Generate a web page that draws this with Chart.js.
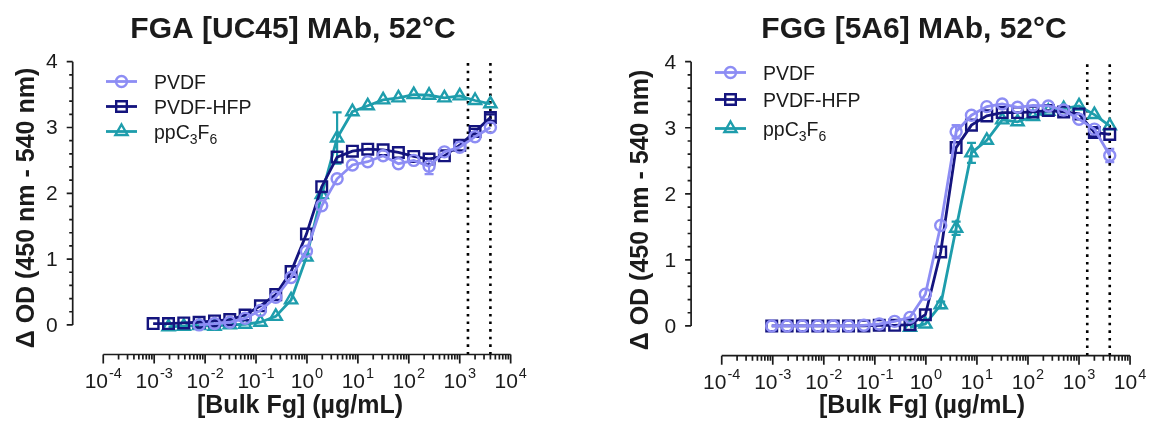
<!DOCTYPE html>
<html>
<head>
<meta charset="utf-8">
<script src="https://cdn.jsdelivr.net/npm/chart.js@4.4.1/dist/chart.umd.min.js"></script>
<style>
  body { margin: 0; background: #fff; overflow: hidden; }
  .panel { position: absolute; top: 0; width: 575px; height: 421px; }
</style>
</head>
<body>
<div class="panel" style="left:0"><canvas id="fgaChart" width="575" height="421"></canvas></div>
<div class="panel" style="left:575px"><canvas id="fggChart" width="575" height="421"></canvas></div>
<script>
// 2-fold dilution series of bulk fibrinogen (ug/mL)
const conc = [0.000954, 0.00191, 0.00381, 0.00763, 0.0153, 0.0305, 0.061, 0.122, 0.244, 0.488,
              0.977, 1.95, 3.91, 7.81, 15.6, 31.3, 62.5, 125, 250, 500, 1000, 2000, 4000];

const seriesNames = ['PVDF', 'PVDF-HFP', 'ppC3F6'];
const seriesColors = ['#8d8df4', '#14147e', '#1e9dac'];
const seriesMarkers = ['circle', 'rect', 'triangle'];
const markerRadius = [5.5, 7.5, 7];

// FGA [UC45] panel
const fgaPVDF  = [null, null, null, 0.00, 0.02, 0.04, 0.10, 0.22, 0.42, 0.72, 1.12, 1.81, 2.22, 2.43, 2.48, 2.57, 2.45, 2.50, 2.41, 2.63, 2.70, 2.86, 3.00];
const fgaHFP   = [0.02, 0.02, 0.03, 0.04, 0.06, 0.08, 0.15, 0.29, 0.46, 0.81, 1.38, 2.10, 2.55, 2.64, 2.67, 2.66, 2.62, 2.56, 2.52, 2.57, 2.73, 2.94, 3.15];
const fgaC3F6  = [null, -0.03, -0.02, -0.01, -0.02, 0.00, 0.01, 0.04, 0.13, 0.38, 1.03, 1.98, 2.84, 3.24, 3.33, 3.42, 3.45, 3.50, 3.49, 3.45, 3.48, 3.41, 3.36];
const fgaPVDFsd = [0, 0, 0, 0, 0, 0, 0, 0, 0, 0, 0, 0, 0, 0, 0, 0, 0, 0, 0.12, 0, 0, 0, 0];
const fgaHFPsd  = [0, 0, 0, 0, 0, 0, 0, 0, 0, 0, 0, 0, 0, 0, 0, 0, 0, 0, 0, 0, 0, 0.04, 0.05];
const fgaC3F6sd = [0, 0, 0, 0, 0, 0, 0, 0, 0, 0, 0, 0, 0.39, 0, 0, 0, 0, 0, 0, 0, 0, 0, 0];

// FGG [5A6] panel
const fggPVDF  = [0.00, 0.00, 0.00, 0.00, 0.00, 0.00, 0.01, 0.03, 0.07, 0.13, 0.48, 1.52, 2.94, 3.19, 3.32, 3.36, 3.31, 3.34, 3.33, 3.27, 3.13, 2.98, 2.58];
const fggHFP   = [0.00, 0.00, 0.00, 0.00, 0.00, 0.00, 0.00, 0.01, 0.01, 0.02, 0.17, 1.12, 2.70, 3.04, 3.18, 3.23, 3.23, 3.24, 3.26, 3.24, 3.21, 2.93, 2.90];
const fggC3F6  = [null, null, null, null, null, null, null, null, null, -0.02, 0.03, 0.32, 1.48, 2.62, 2.81, 3.12, 3.09, 3.17, 3.25, 3.29, 3.33, 3.20, 3.03];
const fggPVDFsd = [0, 0, 0, 0, 0, 0, 0, 0, 0, 0, 0, 0, 0.10, 0, 0, 0, 0, 0, 0, 0, 0, 0, 0.10];
const fggHFPsd  = [0, 0, 0, 0, 0, 0, 0, 0, 0, 0, 0, 0, 0, 0, 0, 0, 0, 0, 0, 0, 0, 0.06, 0];
const fggC3F6sd = [0, 0, 0, 0, 0, 0, 0, 0, 0, 0, 0, 0.05, 0.10, 0.15, 0, 0, 0, 0, 0, 0, 0, 0, 0];

// dotted reference lines (ug/mL)
const cutoffs = [1450, 4000];

const xDecades = [-4, -3, -2, -1, 0, 1, 2, 3, 4];
const yTicks = [0, 1, 2, 3, 4];

const FONT = '"Liberation Sans", Arial, Helvetica, sans-serif';
const INK = '#1b1b1b';

function drawMarker(ctx, style, r, x, y) {
  Chart.helpers.drawPoint(ctx, {
    pointStyle: style, radius: r, rotation: 0, borderWidth: 2.4
  }, x, y);
}

function drawSubText(ctx, parts, x, y) {
  // parts: [text, isSubscript]
  let cx = x;
  parts.forEach(([t, sub]) => {
    ctx.font = (sub ? '14px ' : '19.5px ') + FONT;
    ctx.fillText(t, cx, sub ? y + 5 : y);
    cx += ctx.measureText(t).width;
  });
}

const prismAxes = {
  id: 'prismAxes',
  beforeDatasetsDraw(chart) {
    const { ctx, scales: { x, y } } = chart;
    const o = chart.options.plugins.prismAxes;
    ctx.save();
    o.sd.forEach((sds, s) => {
      ctx.strokeStyle = seriesColors[s];
      ctx.lineWidth = 2.2;
      sds.forEach((sd, i) => {
        const v = o.values[s][i];
        if (!sd || v === null) return;
        const px = x.getPixelForValue(conc[i]);
        const top = y.getPixelForValue(v + sd), bot = y.getPixelForValue(v - sd);
        ctx.beginPath();
        ctx.moveTo(px, top); ctx.lineTo(px, bot);
        ctx.moveTo(px - 4.5, top); ctx.lineTo(px + 4.5, top);
        ctx.moveTo(px - 4.5, bot); ctx.lineTo(px + 4.5, bot);
        ctx.stroke();
      });
    });
    ctx.restore();
  },
  afterDraw(chart) {
    const { ctx, chartArea, scales: { x, y } } = chart;
    const o = chart.options.plugins.prismAxes;
    ctx.save();
    ctx.strokeStyle = INK;
    ctx.fillStyle = INK;
    ctx.lineWidth = 1.7;

    // y axis: 0..4 only, ticks outward
    const ax = chartArea.left;
    ctx.beginPath();
    ctx.moveTo(ax, y.getPixelForValue(0));
    ctx.lineTo(ax, y.getPixelForValue(4));
    for (let k = 0; k <= 20; k++) {
      const py = y.getPixelForValue(k * 0.2);
      ctx.moveTo(ax, py);
      ctx.lineTo(ax - (k % 5 === 0 ? 6 : 3.5), py);
    }
    ctx.stroke();
    ctx.font = '21px ' + FONT;
    ctx.textAlign = 'right';
    ctx.textBaseline = 'middle';
    yTicks.forEach(t => ctx.fillText(String(t), ax - 15, y.getPixelForValue(t) + 1));

    // x axis: offset below the data, 1e-4..1e4, ticks hanging down
    const ay = chartArea.bottom;
    const x0 = x.getPixelForValue(1e-4), x1 = x.getPixelForValue(1e4);
    ctx.beginPath();
    ctx.moveTo(x0, ay); ctx.lineTo(x1, ay);
    xDecades.forEach((d, n) => {
      const base = Math.pow(10, d);
      const px = x.getPixelForValue(base);
      ctx.moveTo(px, ay); ctx.lineTo(px, ay + 9);
      if (n < xDecades.length - 1) {
        for (let m = 2; m <= 9; m++) {
          const pm = x.getPixelForValue(m * base);
          ctx.moveTo(pm, ay); ctx.lineTo(pm, ay + 5);
        }
      }
    });
    ctx.stroke();

    ctx.textAlign = 'left';
    ctx.textBaseline = 'alphabetic';
    xDecades.forEach(d => {
      const px = x.getPixelForValue(Math.pow(10, d));
      const sup = String(d);
      ctx.font = '21px ' + FONT;
      const wb = ctx.measureText('10').width;
      ctx.font = '14.5px ' + FONT;
      const ws = ctx.measureText(sup).width;
      const start = px - (wb + ws + 1) / 2;
      ctx.font = '21px ' + FONT;
      ctx.fillText('10', start, ay + 33);
      ctx.font = '14.5px ' + FONT;
      ctx.fillText(sup, start + wb + 1, ay + 23.5);
    });

    // axis titles and panel title
    ctx.font = 'bold 25px ' + FONT;
    ctx.textAlign = 'center';
    ctx.fillText('[Bulk Fg] (\u00b5g/mL)', o.xTitleX, 413);
    ctx.save();
    ctx.translate(o.yTitleX, o.yTitleY);
    ctx.rotate(-Math.PI / 2);
    ctx.textBaseline = 'middle';
    ctx.fillText('\u0394 OD (450 nm - 540 nm)', 0, 0);
    ctx.restore();

    ctx.font = 'bold 30px ' + FONT;
    ctx.textAlign = 'center';
    ctx.fillText(o.title, o.titleX, 38);

    // legend: line segment with marker, label to the right
    ctx.textAlign = 'left';
    o.legendRows.forEach((ly, s) => {
      ctx.strokeStyle = seriesColors[s];
      ctx.lineWidth = 2.8;
      ctx.beginPath();
      ctx.moveTo(o.legendX, ly); ctx.lineTo(o.legendX + 31, ly);
      ctx.stroke();
      ctx.fillStyle = 'rgba(0,0,0,0)';
      ctx.lineWidth = 2.4;
      drawMarker(ctx, seriesMarkers[s], markerRadius[s], o.legendX + 15.5, ly);
      ctx.fillStyle = INK;
      if (s === 2) {
        drawSubText(ctx, [['ppC', false], ['3', true], ['F', false], ['6', true]], o.legendX + 48, ly + 7);
      } else {
        ctx.font = '19.5px ' + FONT;
        ctx.fillText(seriesNames[s], o.legendX + 48, ly + 7);
      }
    });
    ctx.restore();
  }
};

function buildDatasets(values) {
  const sets = values.map((vals, s) => ({
    label: seriesNames[s],
    data: conc.map((c, i) => ({ x: c, y: vals[i] })),
    borderColor: seriesColors[s],
    borderWidth: 2.8,
    pointStyle: seriesMarkers[s],
    pointRadius: markerRadius[s],
    pointBorderWidth: 2.4,
    pointBorderColor: seriesColors[s],
    pointBackgroundColor: 'rgba(0,0,0,0)',
    tension: 0,
    clip: false,
    order: s
  }));
  cutoffs.forEach(c => sets.push({
    label: 'cutoff',
    data: [{ x: c, y: -0.45 }, { x: c, y: 4 }],
    borderColor: '#000',
    borderWidth: 2.6,
    borderDash: [2.6, 5],
    pointRadius: 0,
    clip: false,
    order: 10
  }));
  return sets;
}

function makeChart(id, values, sd, cfg) {
  return new Chart(document.getElementById(id), {
    type: 'line',
    data: { datasets: buildDatasets(values) },
    options: {
      responsive: false,
      animation: false,
      events: [],
      layout: { padding: cfg.padding },
      scales: {
        x: { type: 'logarithmic', min: Math.pow(10, -4.6), max: Math.pow(10, 4.04), display: false },
        y: { type: 'linear', min: -0.45, max: 4.05, display: false }
      },
      plugins: {
        legend: { display: false },
        tooltip: { enabled: false },
        prismAxes: Object.assign({ values, sd }, cfg)
      }
    },
    plugins: [prismAxes]
  });
}

makeChart('fgaChart', [fgaPVDF, fgaHFP, fgaC3F6], [fgaPVDFsd, fgaHFPsd, fgaC3F6sd], {
  title: 'FGA [UC45] MAb, 52\u00b0C',
  titleX: 293, xTitleX: 300, yTitleX: 27, yTitleY: 208,
  legendX: 106, legendRows: [81.5, 106.5, 131.5],
  padding: { left: 72.7, right: 62.3, top: 58.4, bottom: 66.5 }
});

makeChart('fggChart', [fggPVDF, fggHFP, fggC3F6], [fggPVDFsd, fggHFPsd, fggC3F6sd], {
  title: 'FGG [5A6] MAb, 52\u00b0C',
  titleX: 339, xTitleX: 347, yTitleX: 66, yTitleY: 210,
  legendX: 140, legendRows: [72.5, 99.5, 128.5],
  padding: { left: 116.1, right: 17.9, top: 58.4, bottom: 65.3 }
});
</script>
</body>
</html>
